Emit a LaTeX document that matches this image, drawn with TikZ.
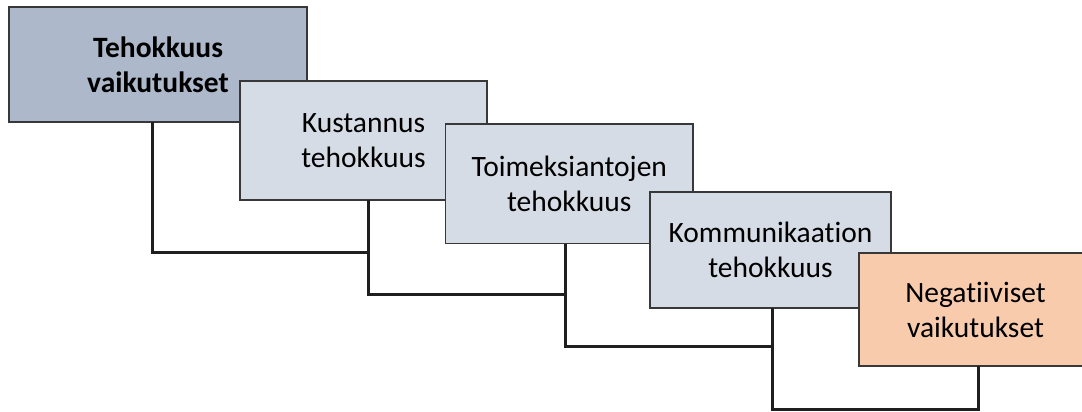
\documentclass[tikz,border=0pt]{standalone}
\usepackage{fontspec}
\setmainfont{Carlito}[Ligatures=NoCommon]
\definecolor{darkbox}{HTML}{ADB9CA}
\definecolor{lightbox}{HTML}{D6DCE5}
\definecolor{peachbox}{HTML}{F8CBAD}
\begin{document}
\begin{tikzpicture}[x=1pt,y=-1pt,
  box/.style={draw=black!78, line width=1.2pt, rectangle, inner sep=0pt, outer sep=0pt,
    align=center, font=\fontsize{29.5}{35}\selectfont, text=black},
  conn/.style={draw=black!88, line width=3pt, line join=miter}]
\useasboundingbox (0,0) rectangle (1082,412);
\clip (0,0) rectangle (1082,412);
% connector drop points (box centres known)
\coordinate (s1) at (152,122);
\coordinate (s2) at (368,200);
\coordinate (s3) at (565,243.5);
\coordinate (s4) at (772,308);
\coordinate (s5) at (978,366);
% boxes
\node[box, fill=darkbox, minimum width=298pt, minimum height=115pt, font=\fontsize{29.5}{35}\selectfont\bfseries]
  (b1) at (158,64.5) {Tehokkuus\\vaikutukset};
\node[box, fill=lightbox, minimum width=247pt, minimum height=119pt]
  (b2) at (363.5,140.5) {Kustannus\\tehokkuus};
\node[box, fill=lightbox, minimum width=247.5pt, minimum height=119.5pt]
  (b3) at (569.25,183.75) {Toimeksiantojen\\tehokkuus};
\node[box, fill=lightbox, minimum width=241pt, minimum height=116pt]
  (b4) at (770.5,250) {Kommunikaation\\tehokkuus};
\node[box, fill=peachbox, minimum width=233pt, minimum height=113pt]
  (b5) at (975.5,309.5) {Negatiiviset\\vaikutukset};
% connectors
\draw[conn] (b1.south -| s1) -- (s1 |- 0,252) -| (b2.south -| s2);
\draw[conn] (b2.south -| s2) -- (s2 |- 0,294) -| (b3.south -| s3);
\draw[conn] (b3.south -| s3) -- (s3 |- 0,346) -| (b4.south -| s4);
\draw[conn] (b4.south -| s4) -- (s4 |- 0,409.5) -| (b5.south -| s5);
\end{tikzpicture}
\end{document}
